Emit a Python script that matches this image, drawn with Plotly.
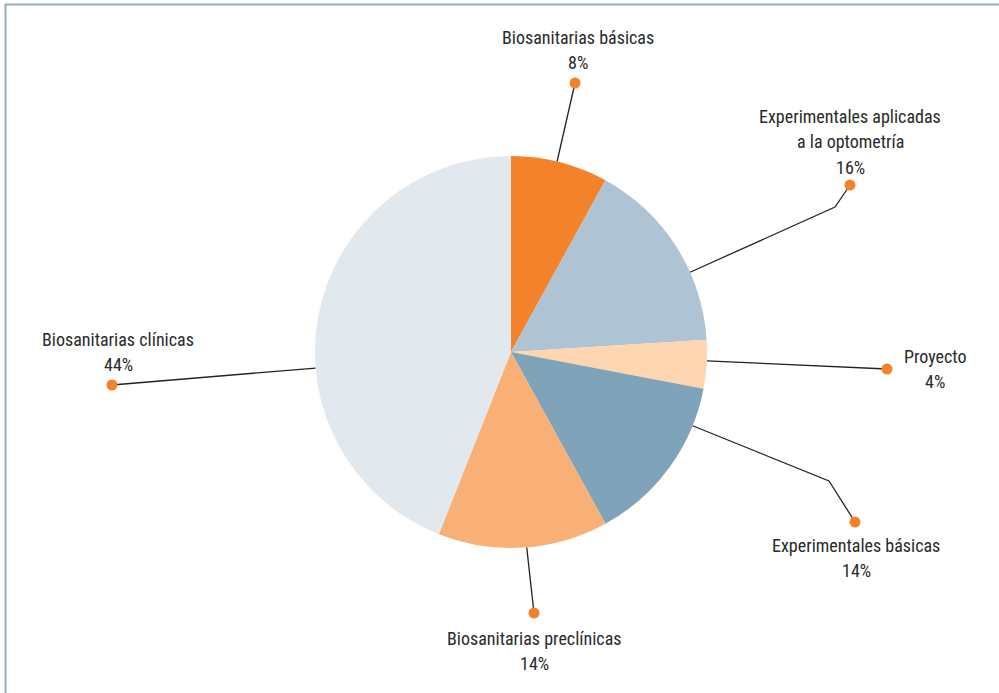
import math
import plotly.graph_objects as go

# Distribution of course credits by subject block
categories = [
    "Biosanitarias básicas",
    "Experimentales aplicadas|a la optometría",
    "Proyecto",
    "Experimentales básicas",
    "Biosanitarias preclínicas",
    "Biosanitarias clínicas",
]
values = [8, 16, 4, 14, 14, 44]
colors = ["#F4822A", "#AEC3D3", "#FDD5B1", "#7FA3B9", "#F9B076", "#E1E8EE"]

W, H = 999, 693
CX, CY, R = 511, 352, 196
LINE_GAP = 25.5

# Leader line layout: angle on the rim (deg clockwise from 12 o'clock),
# optional elbow, end dot, and centre of the first label line (pixel space)
leaders = [
    dict(angle=13.6, elbow=None, dot=(575, 83), label=(578, 37)),
    dict(angle=66.0, elbow=(835, 207), dot=(850, 185), label=(850, 116)),
    dict(angle=92.6, elbow=None, dot=(887, 369), label=(935, 356)),
    dict(angle=112.1, elbow=(829, 481), dot=(855, 522), label=(856, 545)),
    dict(angle=175.4, elbow=None, dot=(534, 613), label=(534, 638)),
    dict(angle=265.3, elbow=None, dot=(112, 385), label=(118, 339)),
]

FONT = "Liberation Sans Narrow, Arial Narrow, Roboto Condensed, Open Sans, sans-serif"

fig = go.Figure()

fig.add_trace(go.Pie(
    labels=[c.replace("|", " ") for c in categories],
    values=values,
    marker=dict(colors=colors, line=dict(width=0)),
    sort=False,
    direction="clockwise",
    rotation=0,
    textinfo="none",
    hoverinfo="label+percent",
    showlegend=False,
    domain=dict(x=[(CX - R) / W, (CX + R) / W], y=[(H - CY - R) / H, (H - CY + R) / H]),
))

annotations = []
for cat, val, ld in zip(categories, values, leaders):
    a = math.radians(ld["angle"])
    sx, sy = CX + R * math.sin(a), CY - R * math.cos(a)
    xs, ys = [sx], [sy]
    if ld["elbow"]:
        xs.append(ld["elbow"][0]); ys.append(ld["elbow"][1])
    xs.append(ld["dot"][0]); ys.append(ld["dot"][1])
    fig.add_trace(go.Scatter(x=xs, y=ys, mode="lines", line=dict(color="#222222", width=1.3),
                             hoverinfo="skip", showlegend=False, xaxis="x", yaxis="y"))
    fig.add_trace(go.Scatter(x=[ld["dot"][0]], y=[ld["dot"][1]], mode="markers",
                             marker=dict(color="#F4822A", size=11, line=dict(width=0)),
                             hoverinfo="skip", showlegend=False, xaxis="x", yaxis="y"))
    lines = cat.split("|") + [f"{val}%"]
    for i, txt in enumerate(lines):
        annotations.append(dict(
            x=ld["label"][0], y=ld["label"][1] + i * LINE_GAP, xref="x", yref="y",
            text=txt, showarrow=False, align="center",
            xanchor="center", yanchor="middle",
            font=dict(family=FONT, size=18, color="#2a2a2a"),
        ))

fig.update_layout(
    width=W, height=H,
    margin=dict(l=0, r=0, t=0, b=0),
    paper_bgcolor="white", plot_bgcolor="rgba(0,0,0,0)",
    xaxis=dict(range=[0, W], visible=False, fixedrange=True),
    yaxis=dict(range=[H, 0], visible=False, fixedrange=True),
    annotations=annotations,
    shapes=[
        dict(type="line", xref="x", yref="y", x0=5, y0=4.5, x1=W, y1=4.5,
             line=dict(color="#8FAEC4", width=2)),
        dict(type="line", xref="x", yref="y", x0=5.5, y0=4, x1=5.5, y1=H,
             line=dict(color="#8FAEC4", width=2)),
    ],
)

fig.write_html("out.html")
